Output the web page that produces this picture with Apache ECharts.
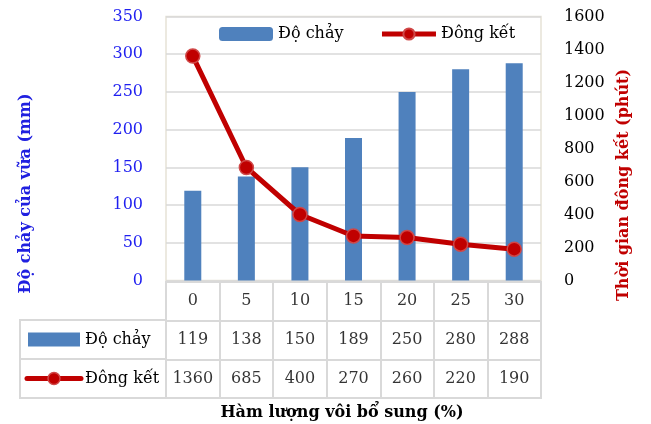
<!DOCTYPE html>
<html>
<head>
<meta charset="utf-8">
<script src="https://cdn.jsdelivr.net/npm/echarts@6/dist/echarts.min.js"></script>
<style>
  html, body { margin: 0; padding: 0; background: #fff; }
  #chart { width: 651px; height: 424px; }
</style>
</head>
<body>
<div id="chart"></div>
<script>
// Lime content (%) added to the mortar
const categories = ['0', '5', '10', '15', '20', '25', '30'];
// Flow of the mortar (mm)
const flowValues = [119, 138, 150, 189, 250, 280, 288];
// Setting time (minutes)
const settingValues = [1360, 685, 400, 270, 260, 220, 190];
const seriesNames = ['Độ chảy', 'Đông kết'];
const tableRows = ['cat', 'Độ chảy', 'Đông kết'];

const FONT = '"DejaVu Serif", serif';
const BAR_COLOR = '#4f81bd';
const LINE_COLOR = '#c00000';
const TABLE_LINE = '#d9d9d9';

// data table cells: header row of categories, then one row per series
const tableCells = [];
categories.forEach((c, i) => {
  tableCells.push({ value: [i, 0, c] });
  tableCells.push({ value: [i, 1, String(flowValues[i])] });
  tableCells.push({ value: [i, 2, String(settingValues[i])] });
});

const chart = echarts.init(document.getElementById('chart'), null, { renderer: 'canvas' });

chart.setOption({
  backgroundColor: '#fff',
  animation: false,
  title: {
    text: 'Hàm lượng vôi bổ sung (%)',
    left: 337,
    top: 400,
    textAlign: 'center',
    textStyle: { fontFamily: FONT, fontSize: 16, fontWeight: 'bold', color: '#000' }
  },
  legend: {
    left: 219,
    top: 26,
    padding: 0,
    itemWidth: 54,
    itemHeight: 14,
    itemGap: 36,
    lineStyle: { width: 5 },
    textStyle: { fontFamily: FONT, fontSize: 16, color: '#000' },
    data: seriesNames
  },
  grid: [
    // plot area
    { left: 166, right: 110, top: 16.5, bottom: 143.5, show: true, borderColor: '#e6e2d6', borderWidth: 1.5 },
    // data table values
    { left: 166, right: 110, top: 282, bottom: 26, show: true, borderColor: TABLE_LINE, borderWidth: 2 },
    // data table row headers
    { left: 20, right: 485, top: 320, bottom: 26, show: true, borderColor: TABLE_LINE, borderWidth: 2 }
  ],
  xAxis: [
    { gridIndex: 0, type: 'category', data: categories,
      axisLine: { show: false }, axisTick: { show: false }, axisLabel: { show: false } },
    { gridIndex: 1, type: 'category', data: categories,
      axisLine: { show: false }, axisTick: { show: false }, axisLabel: { show: false },
      splitLine: { show: true, interval: 0, lineStyle: { color: TABLE_LINE, width: 2 } } },
    { gridIndex: 2, type: 'category', data: ['h'],
      axisLine: { show: false }, axisTick: { show: false }, axisLabel: { show: false } }
  ],
  yAxis: [
    { gridIndex: 0, type: 'value', min: 0, max: 350, interval: 50,
      name: 'Độ chảy của vữa (mm)', nameLocation: 'middle', nameGap: 132, nameRotate: 90,
      nameTextStyle: { fontFamily: FONT, fontSize: 16, fontWeight: 'bold', color: '#2020e0',
        padding: [0, 90, 0, 0] },
      axisLine: { show: false }, axisTick: { show: false },
      axisLabel: { margin: 23, fontFamily: FONT, fontSize: 16, color: '#1f1ff0' },
      splitLine: { show: true, lineStyle: { color: '#d9d9d9', width: 1.5 } } },
    { gridIndex: 0, type: 'value', min: 0, max: 1600, interval: 200, position: 'right',
      name: 'Thời gian đông kết (phút)', nameLocation: 'middle', nameGap: 73, nameRotate: 90,
      nameTextStyle: { fontFamily: FONT, fontSize: 16, fontWeight: 'bold', color: LINE_COLOR,
        padding: [0, 73, 0, 0] },
      axisLine: { show: false }, axisTick: { show: false },
      axisLabel: { margin: 23, fontFamily: FONT, fontSize: 16, color: '#000',
        formatter: v => String(v) },
      splitLine: { show: false } },
    { gridIndex: 1, type: 'category', data: tableRows, inverse: true,
      axisLine: { show: false }, axisTick: { show: false }, axisLabel: { show: false },
      splitLine: { show: true, interval: 0, lineStyle: { color: TABLE_LINE, width: 2 } } },
    { gridIndex: 2, type: 'category', data: seriesNames, inverse: true,
      axisLine: { show: false }, axisTick: { show: false }, axisLabel: { show: false },
      splitLine: { show: true, interval: 0, lineStyle: { color: TABLE_LINE, width: 2 } } }
  ],
  series: [
    {
      name: seriesNames[0], type: 'bar', xAxisIndex: 0, yAxisIndex: 0,
      data: flowValues, barWidth: 17,
      itemStyle: { color: BAR_COLOR }
    },
    {
      name: seriesNames[1], type: 'line', xAxisIndex: 0, yAxisIndex: 1,
      data: settingValues,
      symbol: 'circle', symbolSize: 14,
      lineStyle: { color: LINE_COLOR, width: 5 },
      itemStyle: { color: LINE_COLOR, borderColor: '#d04848', borderWidth: 1.5 },
      z: 3
    },
    {
      // values of the data table
      type: 'scatter', xAxisIndex: 1, yAxisIndex: 2,
      data: tableCells, symbolSize: 0, silent: true,
      label: {
        show: true, position: 'inside',
        formatter: p => p.value[2],
        fontFamily: FONT, fontSize: 16, color: '#000'
      }
    },
    {
      // row headers of the data table, each with its series key
      type: 'custom', xAxisIndex: 2, yAxisIndex: 3, silent: true,
      data: [[0, 0], [0, 1]],
      renderItem: (params, api) => {
        const r = api.value(1);
        const c = api.coord([0, r]);
        const sz = api.size([1, 1]);
        const left = c[0] - sz[0] / 2;
        const cy = c[1];
        const children = [];
        if (r === 0) {
          children.push({ type: 'rect', shape: { x: left + 8, y: cy - 7, width: 52, height: 14 },
            style: { fill: BAR_COLOR } });
        } else {
          children.push({ type: 'line', shape: { x1: left + 7, y1: cy, x2: left + 61, y2: cy },
            style: { stroke: LINE_COLOR, lineWidth: 5, lineCap: 'round' } });
          children.push({ type: 'circle', shape: { cx: left + 34, cy: cy, r: 6 },
            style: { fill: LINE_COLOR, stroke: '#d04848', lineWidth: 1.5 } });
        }
        children.push({ type: 'text',
          style: { text: seriesNames[r], x: left + 65, y: cy, verticalAlign: 'middle',
            font: '16px ' + FONT, fill: '#000' } });
        return { type: 'group', children };
      }
    }
  ]
});
</script>
</body>
</html>
